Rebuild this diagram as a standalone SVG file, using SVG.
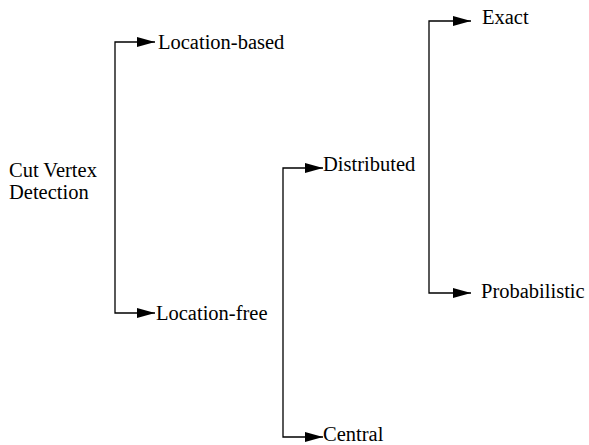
<svg xmlns="http://www.w3.org/2000/svg" width="589" height="445" viewBox="0 0 589 445">
  <style>
    .lbl { font-family: "Liberation Serif", "Times New Roman", serif; font-size: 20.5px; fill: #000; }
    .conn { fill: none; stroke: #000; stroke-width: 1.3; }
  </style>
  <defs>
    <marker id="arrow" markerUnits="userSpaceOnUse" markerWidth="18" markerHeight="10" refX="18" refY="5" orient="auto">
      <path d="M0,0 L18,5 L0,10 Z" fill="#000"/>
    </marker>
  </defs>
  <rect width="589" height="445" fill="#fff"/>

  <g id="connectors">
    <!-- root split -->
    <path class="conn" d="M115,180 V42 H155" marker-end="url(#arrow)"/>
    <path class="conn" d="M115,180 V313 H155" marker-end="url(#arrow)"/>
    <!-- location-free split -->
    <path class="conn" d="M283,300 V168 H323" marker-end="url(#arrow)"/>
    <path class="conn" d="M283,300 V437 H323" marker-end="url(#arrow)"/>
    <!-- distributed split -->
    <path class="conn" d="M429,160 V21 H471" marker-end="url(#arrow)"/>
    <path class="conn" d="M429,160 V293 H471" marker-end="url(#arrow)"/>
  </g>

  <g id="root">
    <text class="lbl" x="9" y="177">Cut Vertex</text>
    <text class="lbl" x="9" y="199">Detection</text>
  </g>
  <g id="location-based"><text class="lbl" x="158" y="49">Location-based</text></g>
  <g id="location-free"><text class="lbl" x="156" y="320">Location-free</text></g>
  <g id="distributed"><text class="lbl" x="323" y="171">Distributed</text></g>
  <g id="central"><text class="lbl" x="323" y="441">Central</text></g>
  <g id="exact"><text class="lbl" x="482" y="24">Exact</text></g>
  <g id="probabilistic"><text class="lbl" x="481" y="298">Probabilistic</text></g>
</svg>
